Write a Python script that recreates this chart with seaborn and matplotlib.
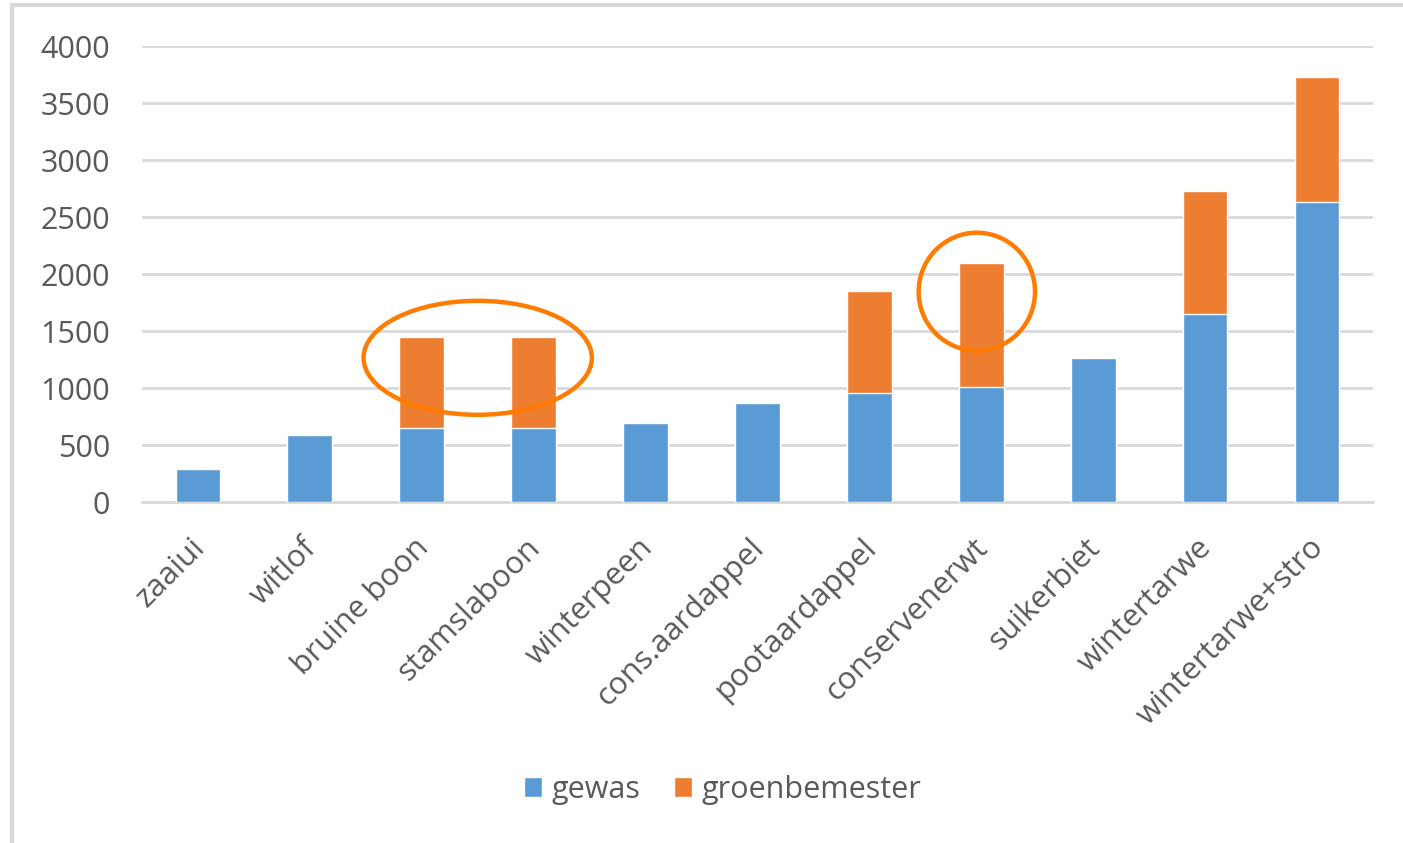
import matplotlib.pyplot as plt
import pandas as pd
import seaborn as sns
from matplotlib.patches import Ellipse, Rectangle, Patch
from matplotlib.transforms import ScaledTranslation

gewassen = ["zaaiui", "witlof", "bruine boon", "stamslaboon", "winterpeen",
            "cons.aardappel", "pootaardappel", "conservenerwt", "suikerbiet",
            "wintertarwe", "wintertarwe+stro"]
gewas = [290, 590, 645, 645, 690, 870, 955, 1005, 1265, 1645, 2630]
groenbemester = [0, 0, 800, 800, 0, 0, 900, 1095, 0, 1085, 1100]
y_ticks = [0, 500, 1000, 1500, 2000, 2500, 3000, 3500, 4000]

BLUE = "#5B9BD5"
ORANGE = "#ED7D31"
MARK = "#FF7C00"
GREY = "#595959"

df = pd.DataFrame({"gewas_naam": gewassen, "gewas": gewas, "groenbemester": groenbemester})
df["totaal"] = df["gewas"] + df["groenbemester"]

sns.set_style("white")
plt.rcParams["font.family"] = ["Open Sans", "DejaVu Sans"]

fig = plt.figure(figsize=(14.03, 8.43), dpi=100)
ax = fig.add_axes([0.1012, 0.4045, 0.8774, 0.5409])

# stacked: total (orange) first, gewas (blue) drawn over it
sns.barplot(data=df, x="gewas_naam", y="totaal", color=ORANGE, width=0.4,
            saturation=1, ax=ax, zorder=3)
sns.barplot(data=df, x="gewas_naam", y="gewas", color=BLUE, width=0.4,
            saturation=1, ax=ax, zorder=3)

ax.set_xlim(-0.5, len(gewassen) - 0.5)
ax.set_ylim(0, 4000)
ax.set_yticks(y_ticks)
ax.set_xlabel("")
ax.set_ylabel("")
ax.yaxis.grid(True, color="#D9D9D9", linewidth=2, zorder=0)
ax.set_axisbelow(True)
for s in ["top", "right", "left"]:
    ax.spines[s].set_visible(False)
ax.spines["bottom"].set_color("#D9D9D9")
ax.spines["bottom"].set_linewidth(2)
ax.tick_params(axis="y", length=0, pad=23, labelsize=22, labelcolor=GREY)
ax.tick_params(axis="x", length=0, pad=22, labelsize=22.5, labelcolor=GREY)
shift = ScaledTranslation(-6 / 72, 0, fig.dpi_scale_trans)
for lbl in ax.get_xticklabels():
    lbl.set_rotation(45)
    lbl.set_ha("right")
    lbl.set_va("top")
    lbl.set_rotation_mode("anchor")
    lbl.set_transform(lbl.get_transform() + shift)

# markings round the bars with green manure
i1 = gewassen.index("bruine boon")
i2 = gewassen.index("stamslaboon")
ax.add_patch(Ellipse(((i1 + i2) / 2, df["totaal"][i1] - 180), 2.04, 1000,
                     fill=False, edgecolor=MARK, linewidth=3.2, zorder=5))
i3 = gewassen.index("conservenerwt")
ax.add_patch(Ellipse((i3 - 0.04, df["totaal"][i3] - 255), 1.04, 1035,
                     fill=False, edgecolor=MARK, linewidth=3.2, zorder=5))

handles = [Patch(facecolor=BLUE, label="gewas"), Patch(facecolor=ORANGE, label="groenbemester")]
fig.legend(handles=handles, loc="center", bbox_to_anchor=(0.515, 0.063), ncol=2,
           frameon=False, fontsize=22, labelcolor=GREY, handlelength=0.6,
           handleheight=0.6, handletextpad=0.3, columnspacing=1.1)

# frame of the original screenshot
fig.patches.append(Rectangle((12 / 1403, -0.1), 1.2, 1 - 5 / 843 + 0.1,
                             transform=fig.transFigure, fill=False,
                             edgecolor="#D9D9D9", linewidth=3))

fig.savefig("out.png", dpi=100)
plt.close(fig)
